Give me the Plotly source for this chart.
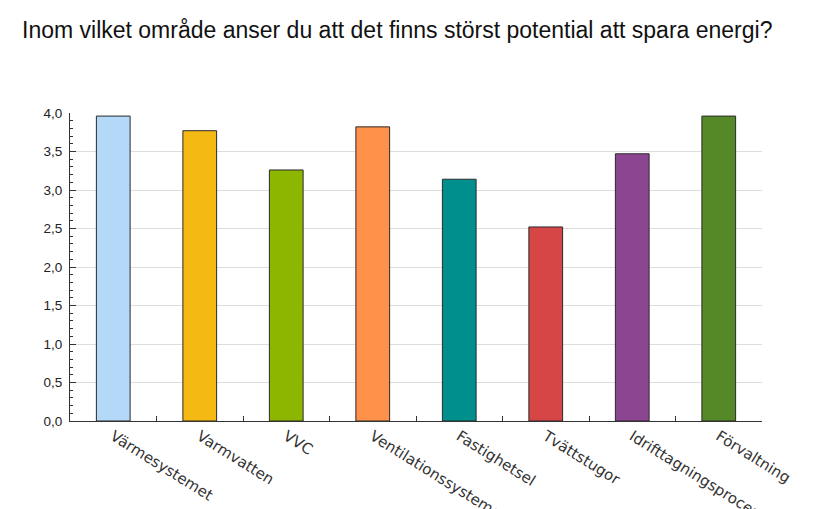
import plotly.graph_objects as go

categories = ["Värmesystemet", "Varmvatten", "VVC", "Ventilationssystemet",
              "Fastighetsel", "Tvättstugor", "Idrifttagningsprocessen", "Förvaltning"]
values = [3.96, 3.77, 3.26, 3.82, 3.14, 2.52, 3.47, 3.96]
colors = ["#B3D8F8", "#F5B914", "#8DB600", "#FF914A", "#008F8C", "#D64646", "#8C4590", "#558826"]
title_text = "Inom vilket område anser du att det finns störst potential att spara energi?"

L, T, PW, PH = 62, 105, 692, 308

fig = go.Figure(go.Bar(
    x=categories, y=values,
    marker=dict(color=colors, line=dict(color="#2a2a2a", width=1)),
    width=0.39,
))

fig.update_layout(
    width=817, height=509,
    margin=dict(l=L, r=817 - L - PW, t=T, b=509 - T - PH),
    paper_bgcolor="white", plot_bgcolor="white",
    separators=", ",
    showlegend=False,
    font=dict(family="Liberation Sans, Arial, sans-serif", color="#222"),
    annotations=[dict(text=title_text, xref="paper", yref="paper",
                      x=-(L - 12) / PW, y=1 + (T - 22) / PH, xanchor="left", yanchor="middle",
                      showarrow=False, font=dict(size=23, color="#111"))],
)
fig.update_xaxes(
    tickangle=32, tickson="boundaries", ticks="inside", ticklen=5,
    tickcolor="#333", showline=True, linecolor="#333", linewidth=1,
    tickfont=dict(size=15, color="#333", family="DejaVu Sans, sans-serif"), automargin=False,
    range=[-0.5, 7.5],
)
fig.update_yaxes(
    range=[0, 4.0], dtick=0.5, tickformat=".1f",
    ticks="inside", ticklen=6, tickcolor="#333",
    showline=True, linecolor="#333", linewidth=1,
    showgrid=True, gridcolor="#DDDDDD", gridwidth=1,
    tickfont=dict(size=13.5, color="#222"), zeroline=False,
    ticklabelstandoff=4,
    minor=dict(dtick=0.1, ticks="inside", ticklen=3, tickcolor="#333", showgrid=False),
    automargin=False,
)

fig.write_html("out.html")
